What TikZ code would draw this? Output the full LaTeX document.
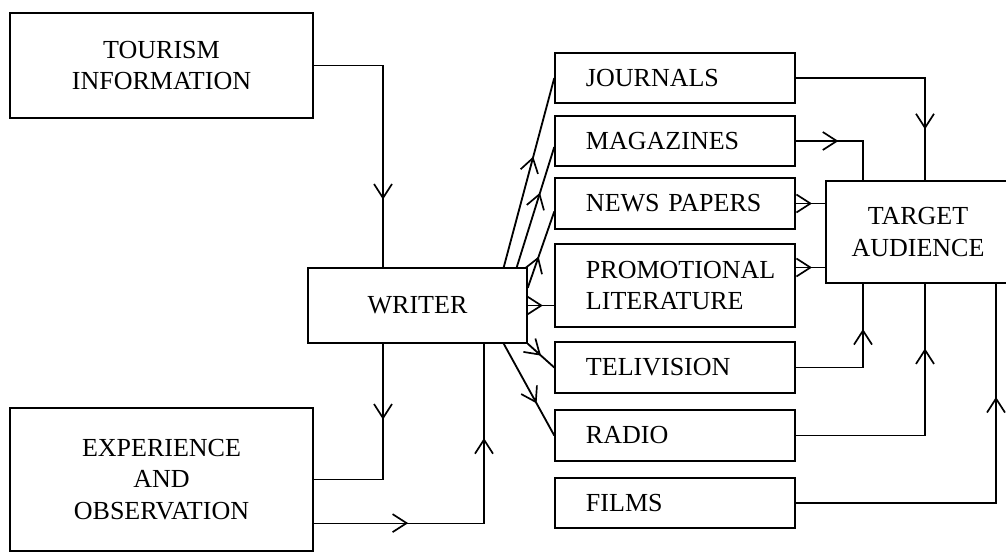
\documentclass[tikz,border=0pt]{standalone}
\usepackage{fontspec}
\setmainfont{Liberation Serif}
\usetikzlibrary{arrows.meta,decorations.markings}
\tikzset{
  box/.style={draw, line width=1pt, inner sep=0pt, align=center,
    font=\fontsize{18.5}{22.5}\selectfont},
  media/.style={box, minimum width=6cm, minimum height=1.25cm,
    text width=4.45cm, align=left},
  link/.style={line width=0.8pt},
  fan/.style={line width=1.3pt},
  barb/.tip={Straight Barb[length=3.5mm,width=4.5mm,line width=1.2pt]},
  midarrow/.style={postaction={decorate}, decoration={markings,
    mark=at position #1 with {\arrow{barb}}}},
  midarrows/.style 2 args={postaction={decorate}, decoration={markings,
    mark=at position #1 with {\arrow{barb}},
    mark=at position #2 with {\arrow{barb}}}}
}
\begin{document}
\begin{tikzpicture}[x=0.025cm,y=-0.025cm]
\clip (0,0) rectangle (1006,553);
% sources and writer
\node [box, minimum width=7.575cm, minimum height=2.625cm] (tourism) at (161.5,65.5) {TOURISM\\INFORMATION};
\node [box, minimum width=7.575cm, minimum height=3.575cm] (exp) at (161.5,479.5) {EXPERIENCE\\AND\\OBSERVATION};
\node [box, minimum width=5.475cm, minimum height=1.875cm] (writer) at (417.5,305.5) {WRITER};
% media
\node [media] (journals) at (675,78) {JOURNALS};
\node [media] (mag) at (675,141) {MAGAZINES};
\node [media, minimum height=1.275cm] (news) at (675,203.5) {NEWS PAPERS};
\node [media, minimum height=2.075cm] (promo) at (675,285.5) {PROMOTIONAL\\LITERATURE};
\node [media, minimum height=1.275cm] (tv) at (675,367.5) {TELIVISION};
\node [media, minimum height=1.275cm] (radio) at (675,435.5) {RADIO};
\node [media] (films) at (675,503) {FILMS};
\node [box, minimum width=4.6cm, minimum height=2.55cm] (target) at (918,232) {TARGET\\AUDIENCE};
% columns of the connectors
\coordinate (inA) at (383,0);
\coordinate (outA) at (484,0);
\coordinate (colA) at (863,0);
\coordinate (colB) at (925,0);
\coordinate (colC) at (996,0);
% writer side
\draw [link, midarrow=0.75] (tourism.east) -| (writer.north -| inA);
\draw [link, midarrow=0.37] (writer.south -| inA) |- (exp.east);
\draw [link, midarrows={0.27}{0.73}] ([yshift=-1.09cm]exp.east) -| (writer.south -| outA);
% writer to media
\draw [fan, midarrow=0.585] ([xshift=-0.6cm]writer.north east) -- (journals.west);
\draw [fan, midarrow=0.62] ([xshift=-0.275cm]writer.north east) -- ([yshift=-0.15cm]mag.west);
\draw [fan, midarrow=0.41] ([yshift=0.44cm]writer.east) -- ([yshift=-0.2cm]news.west);
\draw [fan, midarrow=0.57] (writer.east) -- (writer.east -| promo.west);
\draw [fan, midarrow=0.5] (writer.south east) -- (tv.west);
\draw [fan, midarrow=0.65] ([xshift=-0.6cm]writer.south east) -- (radio.west);
% media to audience
\draw [link, midarrow=0.78] (journals.east) -| (target.north -| colB);
\draw [link, midarrow=0.4] (mag.east) -| (target.north -| colA);
\draw [link, midarrow=0.55] (news.east) -- (news.east -| target.west);
\draw [link, midarrow=0.55] ([yshift=0.45cm]promo.east) -- ([yshift=0.45cm]promo.east -| target.west);
\draw [link, midarrow=0.7] (tv.east) -| (target.south -| colA);
\draw [link, midarrow=0.77] (radio.east) -| (target.south -| colB);
\draw [link, midarrow=0.73] (films.east) -| (target.south -| colC);
\end{tikzpicture}
\end{document}
